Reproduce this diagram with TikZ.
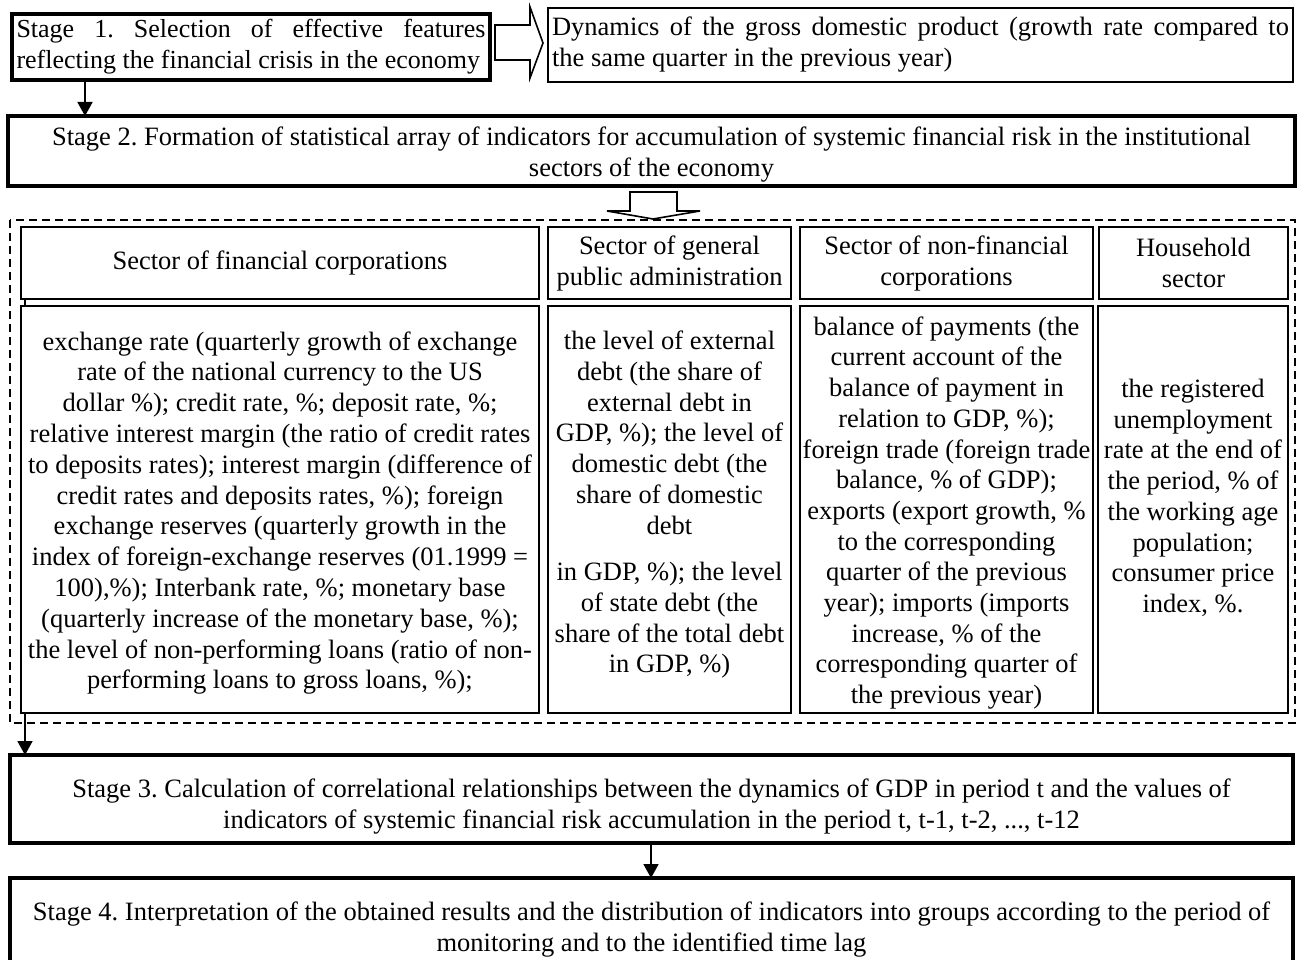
\documentclass[tikz,border=0pt]{standalone}
\usepackage{fontspec}
\setmainfont{Liberation Serif}
\usetikzlibrary{arrows.meta}
\begin{document}
\frenchspacing
\begin{tikzpicture}[x=1pt,y=-1pt,
  every node/.style={font=\fontsize{26.5}{31}\selectfont, inner sep=0pt},
  txt/.style={align=center},
  thickbox/.style={draw, line width=4pt, align=center},
  thinbox/.style={draw, line width=2pt, align=center},
  arr/.style={line width=1.8pt, -{Triangle[length=14pt,width=15pt]}},
  hollow/.style={draw, line width=1.6pt, fill=white, line join=miter},
  dashbox/.style={draw, line width=2pt, dash pattern=on 8pt off 5pt},
]
\useasboundingbox (0,0) rectangle (1298,960);

% Stage 1
\node[thickbox, align=left, minimum width=478pt, minimum height=66pt,
      font=\fontsize{26}{31}\selectfont] (s1) at (251,47)
  {\makebox[469pt][s]{Stage 1. Selection of effective features}\\reflecting the financial crisis in the economy};
% Dynamics
\node[thinbox, align=left, minimum width=745pt, minimum height=74pt] (dyn) at (920.5,45)
  {\makebox[737pt][s]{Dynamics of the gross domestic product (growth rate compared to}\\the same quarter in the previous year)};
% hollow right arrow
\draw[hollow] (495,25) -- (530,25) -- (530,7) -- (543,43) -- (530,78) -- (530,60) -- (495,60) -- cycle;

% Stage 2
\node[thickbox, minimum width=1287pt, minimum height=70pt] (s2) at (651.5,151) {};
\node[txt] (s2t) at ([yshift=-4pt]s2.center)
  {Stage 2. Formation of statistical array of indicators for accumulation of systemic financial risk in the institutional\\sectors of the economy};
\coordinate (c1) at (85,0);
\draw[arr] (s1.south -| c1) -- ([yshift=-2pt]s2.north -| c1);

% hollow down arrow
\draw[hollow] (630,192) -- (677,192) -- (677,211) -- (700,211) -- (653,219) -- (607,211) -- (630,211) -- cycle;

% dashed frame
\draw[dashbox] (10,220) rectangle (1295,723);

% headers
\node[thinbox, minimum width=518pt, minimum height=72pt] (fch) at (280,263) {Sector of financial corporations};
\node[thinbox, minimum width=243pt, minimum height=72pt] (gph) at (669.5,263) {Sector of general\\public administration};
\node[thinbox, minimum width=293pt, minimum height=72pt] (nfh) at (946.5,263) {Sector of non-financial\\corporations};
\node[thinbox, minimum width=189pt, minimum height=72pt] (hhh) at (1193.5,263) {Household\\sector};

% contents
\node[thinbox, minimum width=518pt, minimum height=407pt] (fcc) at (280,509.5) {};
\node[txt, font=\fontsize{26.5}{30.8}\selectfont] (fct) at ([yshift=-3.5pt]fcc.center)
  {exchange rate (quarterly growth of exchange\\
   rate of the national currency to the US\\
   dollar \%); credit rate, \%; deposit rate, \%;\\
   relative interest margin (the ratio of credit rates\\
   to deposits rates); interest margin (difference of\\
   credit rates and deposits rates, \%); foreign\\
   exchange reserves (quarterly growth in the\\
   index of foreign-exchange reserves (01.1999 =\\
   100),\%); Interbank rate, \%; monetary base\\
   (quarterly increase of the monetary base, \%);\\
   the level of non-performing loans (ratio of non-\\
   performing loans to gross loans, \%);};
\node[thinbox, minimum width=243pt, minimum height=407pt] (gpc) at (669.5,509.5) {};
\node[txt, anchor=north, font=\fontsize{26.5}{30.7}\selectfont] (gpt) at (669.5,331)
  {the level of external\\
   debt (the share of\\
   external debt in\\
   GDP, \%); the level of\\
   domestic debt (the\\
   share of domestic\\
   debt\\[16pt]
   in GDP, \%); the level\\
   of state debt (the\\
   share of the total debt\\
   in GDP, \%)};
\node[thinbox, minimum width=293pt, minimum height=407pt] (nfc) at (946.5,509.5) {};
\node[txt, font=\fontsize{26.5}{30.7}\selectfont] (nft) at ([yshift=-3.5pt]nfc.center)
  {balance of payments (the\\
   current account of the\\
   balance of payment in\\
   relation to GDP, \%);\\
   foreign trade (foreign trade\\
   balance, \% of GDP);\\
   exports (export growth, \%\\
   to the corresponding\\
   quarter of the previous\\
   year); imports (imports\\
   increase, \% of the\\
   corresponding quarter of\\
   the previous year)};
\node[thinbox, minimum width=190pt, minimum height=407pt] (hhc) at (1193,509.5) {};
\node[txt, anchor=north, font=\fontsize{26.5}{30.7}\selectfont] (hht) at (1193,379)
  {the registered\\
   unemployment\\
   rate at the end of\\
   the period, \% of\\
   the working age\\
   population;\\
   consumer price\\
   index, \%.};

\coordinate (c2) at (25,0);
\draw[line width=2pt] (fch.south -| c2) -- (fcc.north -| c2);

% Stage 3
\node[thickbox, minimum width=1283pt, minimum height=88pt] (s3) at (651.5,799) {};
\node[txt] (s3t) at ([yshift=-8pt]s3.center)
  {Stage 3. Calculation of correlational relationships between the dynamics of GDP in period t and the values of\\indicators of systemic financial risk accumulation in the period t, t-1, t-2, ..., t-12};
\draw[arr] (fcc.south -| c2) -- ([yshift=-2pt]s3.north -| c2);

% Stage 4
\node[thickbox, minimum width=1283pt, minimum height=92pt] (s4) at (651.5,924) {};
\node[txt] (s4t) at ([yshift=-6pt]s4.center)
  {Stage 4. Interpretation of the obtained results and the distribution of indicators into groups according to the period of\\monitoring and to the identified time lag};
\coordinate (c3) at (651,0);
\draw[arr] (s3.south -| c3) -- ([yshift=-2pt]s4.north -| c3);
\end{tikzpicture}
\end{document}
